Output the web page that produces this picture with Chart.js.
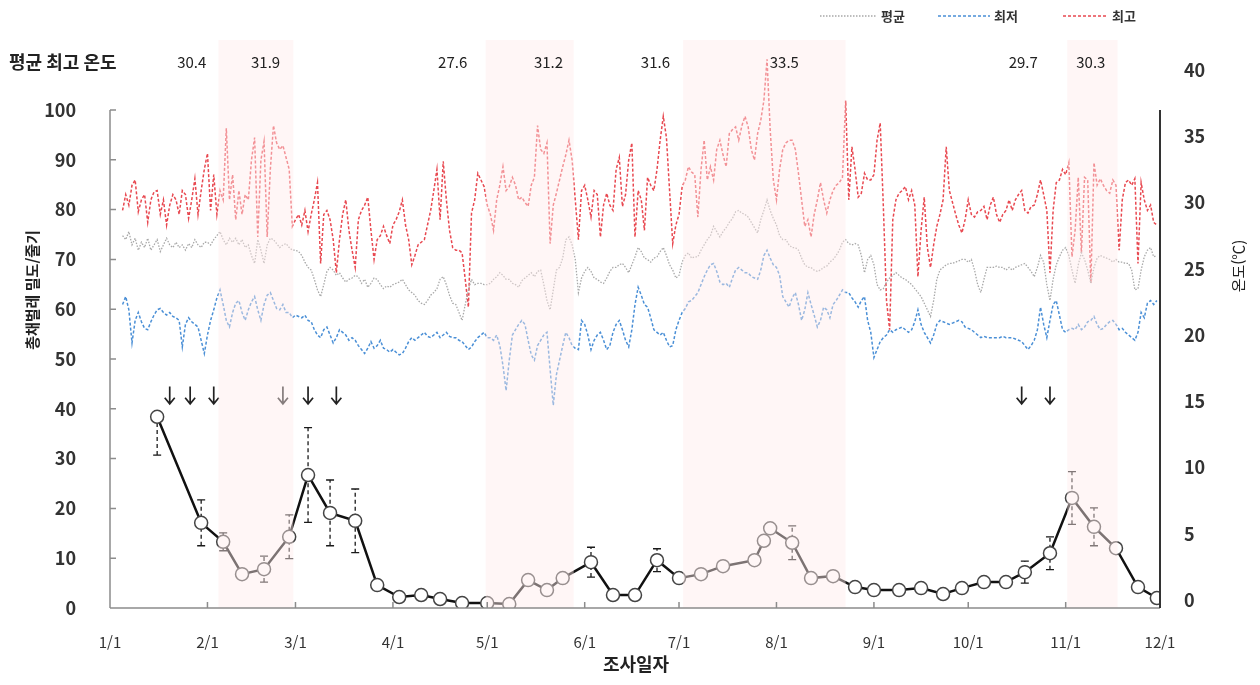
<!DOCTYPE html>
<html lang="ko">
<head>
<meta charset="UTF-8">
<title>총채벌레 밀도와 온도</title>
<script src="https://cdn.jsdelivr.net/npm/chart.js@4.4.1/dist/chart.umd.min.js"></script>
<style>
  html, body { margin: 0; padding: 0; background: #fff; }
  canvas { display: block; }
</style>
</head>
<body>
<canvas id="chart" width="1260" height="685"></canvas>
<script>
// --- 축 눈금 (1/1 = 0일) ---
const monthLabels = ['1/1','2/1','3/1','4/1','5/1','6/1','7/1','8/1','9/1','10/1','11/1','12/1'];
const monthStarts = [0, 31, 59, 90, 120, 151, 181, 212, 243, 273, 304, 334];

// --- 일별 온도 (℃), 1/1부터 ---
const maxTemp = [
  null, null, null, null,
  29.4, 30.6, 29.8, 31.3, 31.7, 29.3, 30.2, 30.6, 28.5, 30.2, 30.8, 30.9, 29.1, 30.2, 28.3, 29.8, 30.6, 30.2, 29.1, 30.9, 30.6, 28.8, 30.2, 31.8, 29.1, 30.9, 32.5,
  33.7, 29.4, 32.1, 29.1, 30.9, 30.2, 35.6, 30.2, 32.1, 28.7, 30.9, 29.1, 30.6, 30.2, 33.2, 34.9, 27.4, 33.2, 34.6, 27.4, 32.5, 35.8, 34.5, 34.0, 34.3, 33.4, 32.5, 28.2,
  28.7, 29.1, 28.3, 29.4, 27.8, 29.1, 30.2, 31.5, 25.4, 29.1, 29.4, 28.7, 27.2, 24.7, 27.2, 29.1, 30.2, 27.9, 26.4, 25.1, 28.7, 29.4, 29.8, 30.4, 27.9, 25.7, 27.2, 27.5, 28.2, 27.5, 26.9,
  28.3, 28.7, 29.3, 30.2, 28.3, 27.2, 25.3, 26.0, 26.8, 27.0, 27.2, 28.3, 29.4, 30.9, 32.5, 28.7, 33.1, 30.2, 27.9, 26.6, 26.4, 26.4, 26.2, 24.2, 22.1, 29.2, 30.2, 32.2, 31.7, 31.2,
  29.8, 29.1, 27.9, 30.2, 31.3, 32.7, 30.9, 31.2, 31.9, 31.3, 30.2, 30.4, 30.0, 29.7, 31.3, 31.9, 35.8, 34.0, 33.7, 34.5, 26.9, 29.8, 30.7, 31.7, 32.7, 33.6, 34.7, 33.2, 30.2, 27.2, 30.9,
  31.3, 30.2, 28.9, 30.9, 30.6, 27.4, 29.8, 30.7, 29.8, 29.4, 32.5, 33.4, 29.7, 30.6, 33.2, 34.5, 27.4, 30.9, 30.2, 27.9, 31.9, 31.3, 30.9, 32.5, 34.7, 36.5, 34.9, 30.9, 26.9, 28.3,
  29.1, 31.2, 31.7, 32.7, 32.3, 32.1, 28.9, 32.5, 34.7, 31.7, 32.7, 31.7, 34.0, 34.7, 33.6, 32.7, 35.2, 35.5, 35.7, 34.7, 35.8, 36.5, 35.7, 34.0, 33.2, 35.2, 36.2, 37.7, 40.8, 35.5, 31.7,
  30.2, 32.5, 34.0, 34.5, 34.7, 34.7, 34.0, 32.2, 30.2, 28.2, 28.7, 27.4, 29.1, 30.2, 31.5, 30.2, 29.2, 30.2, 30.9, 31.3, 31.5, 31.9, 37.7, 30.2, 34.2, 32.5, 30.4, 30.7, 32.2, 31.7, 31.7,
  32.1, 34.7, 36.0, 29.7, 22.6, 20.4, 28.7, 30.2, 30.7, 30.9, 31.2, 30.2, 30.9, 29.8, 24.4, 27.9, 30.4, 26.6, 25.1, 26.8, 28.2, 29.1, 30.2, 34.2, 30.9, 30.0, 29.1, 28.3, 27.7, 28.7,
  30.2, 29.1, 28.9, 29.3, 29.4, 29.7, 28.7, 29.8, 30.4, 29.1, 28.5, 29.1, 29.4, 30.2, 29.4, 30.2, 30.6, 30.9, 29.4, 29.2, 29.7, 29.8, 30.6, 31.7, 30.6, 29.4, 24.7, 29.4, 31.5, 31.7, 32.5,
  32.1, 33.0, 25.9, 27.9, 31.9, 26.2, 31.9, 31.7, 23.9, 33.0, 31.3, 31.8, 31.3, 30.9, 30.7, 31.7, 31.3, 26.4, 30.2, 31.5, 31.7, 31.3, 31.8, 25.4, 31.5, 30.2, 29.4, 29.8, 28.5, 28.3
];
const avgTemp = [
  null, null, null, null,
  27.5, 27.2, 27.8, 26.8, 27.3, 26.4, 27.0, 26.6, 27.3, 26.4, 26.8, 27.2, 26.3, 26.8, 27.3, 26.8, 26.6, 27.0, 26.6, 26.8, 26.4, 26.9, 26.6, 27.2, 26.8, 26.6, 27.0,
  27.0, 26.8, 27.2, 27.5, 27.8, 27.2, 26.8, 27.3, 27.0, 27.3, 26.8, 27.2, 26.6, 26.8, 26.0, 25.4, 27.2, 26.4, 25.4, 26.8, 27.3, 27.2, 26.9, 26.6, 26.8, 26.9, 26.6, 26.4,
  26.4, 26.3, 26.0, 25.5, 25.1, 24.9, 24.2, 23.4, 22.9, 23.8, 24.8, 25.1, 24.9, 24.5, 24.7, 24.3, 24.0, 24.2, 24.3, 24.5, 24.4, 23.9, 24.2, 23.6, 23.9, 24.3, 24.2, 23.8, 23.5, 23.7, 23.6,
  23.8, 23.9, 24.0, 24.2, 23.8, 23.4, 23.2, 23.0, 22.6, 22.4, 22.3, 22.6, 23.0, 23.2, 23.5, 24.2, 24.4, 23.8, 23.0, 22.4, 22.3, 21.7, 21.1, 22.3, 23.4, 24.2, 23.8, 23.9, 23.9, 23.8,
  23.8, 23.9, 24.2, 24.4, 24.7, 24.5, 24.2, 24.2, 23.9, 23.8, 23.6, 24.1, 24.3, 24.5, 24.7, 24.4, 24.8, 24.9, 23.8, 22.6, 21.9, 23.4, 24.9, 25.1, 25.8, 27.2, 27.4, 26.8, 25.7, 23.2, 24.3,
  24.8, 25.1, 24.8, 24.3, 24.2, 24.0, 23.9, 24.3, 24.8, 25.1, 25.1, 25.3, 25.4, 25.1, 24.7, 25.3, 25.9, 26.6, 26.3, 25.8, 25.7, 25.5, 25.8, 25.9, 26.3, 26.6, 26.0, 25.3, 24.9, 24.3,
  24.5, 25.5, 26.0, 26.2, 25.8, 25.9, 25.9, 26.4, 26.8, 27.2, 27.5, 28.2, 27.8, 27.4, 27.8, 28.1, 28.5, 28.8, 29.3, 29.4, 29.2, 29.1, 28.9, 28.5, 28.1, 27.7, 28.7, 29.4, 30.2, 29.4, 28.8,
  28.3, 27.5, 27.2, 27.2, 26.8, 26.6, 26.6, 26.4, 25.8, 25.3, 25.1, 25.1, 24.9, 24.8, 24.9, 25.1, 25.2, 25.5, 25.7, 26.0, 26.4, 27.0, 27.2, 26.9, 26.8, 26.9, 26.8, 26.0, 24.7, 25.7, 26.0,
  25.3, 23.8, 23.4, 23.5, 24.0, 24.3, 24.5, 24.7, 24.5, 24.3, 24.2, 24.0, 23.8, 23.5, 23.2, 22.9, 22.4, 21.9, 21.4, 22.6, 24.2, 24.9, 25.1, 25.3, 25.4, 25.4, 25.5, 25.6, 25.7, 25.7,
  25.5, 25.7, 24.9, 23.8, 23.2, 24.2, 25.1, 25.1, 25.1, 25.2, 25.1, 25.1, 24.9, 25.1, 24.9, 25.1, 25.2, 25.3, 25.4, 25.1, 24.8, 24.4, 25.1, 26.0, 25.5, 23.8, 22.6, 24.2, 25.3, 25.9, 26.4,
  26.6, 26.0, 24.9, 23.9, 25.3, 26.2, 25.7, 24.9, 23.9, 25.1, 25.8, 26.0, 25.9, 25.8, 25.7, 25.5, 25.7, 25.5, 25.5, 25.4, 25.4, 24.9, 23.4, 23.5, 24.9, 25.9, 26.4, 26.6, 25.9, 26.0
];
const minTemp = [
  null, null, null, null,
  22.3, 22.9, 21.9, 19.4, 21.1, 21.7, 21.0, 20.5, 20.4, 21.0, 21.5, 21.9, 22.0, 21.7, 21.5, 21.7, 21.4, 21.3, 21.1, 19.1, 20.8, 21.3, 21.0, 20.8, 20.6, 19.6, 18.6,
  20.0, 21.1, 21.9, 22.8, 23.4, 22.3, 21.1, 20.6, 21.7, 22.4, 22.6, 21.7, 21.1, 21.9, 22.5, 22.9, 21.9, 21.1, 22.3, 23.0, 23.2, 22.6, 22.0, 21.9, 22.3, 21.7, 21.7, 21.3,
  21.5, 21.4, 21.3, 21.5, 21.1, 21.0, 20.4, 20.0, 19.8, 20.4, 20.6, 20.0, 19.4, 19.8, 20.4, 20.2, 20.0, 19.6, 19.8, 19.6, 19.2, 18.9, 18.6, 19.0, 19.5, 19.0, 19.2, 19.6, 19.0, 18.9, 18.7,
  18.9, 18.7, 18.5, 18.6, 19.0, 19.5, 19.8, 19.6, 19.8, 20.0, 20.2, 19.9, 19.8, 20.0, 20.2, 19.8, 20.0, 20.2, 19.9, 19.8, 19.8, 19.6, 19.5, 19.2, 18.9, 19.1, 19.5, 19.8, 20.0, 20.2,
  19.8, 19.8, 19.6, 20.0, 19.2, 17.7, 15.8, 18.1, 20.0, 20.4, 20.8, 21.1, 20.8, 19.6, 18.5, 18.1, 19.2, 19.6, 20.0, 20.2, 17.4, 14.7, 17.0, 18.1, 19.2, 20.2, 19.8, 19.2, 19.0, 18.9, 21.1,
  20.8, 20.0, 18.9, 19.6, 20.0, 20.2, 19.6, 18.9, 19.2, 20.2, 20.8, 21.1, 20.4, 19.6, 19.1, 20.4, 22.3, 23.6, 23.0, 22.3, 22.1, 21.3, 20.4, 20.2, 20.0, 20.2, 19.6, 19.1, 19.2, 20.4,
  21.1, 21.7, 22.0, 22.5, 22.6, 22.9, 23.2, 23.8, 24.4, 24.9, 25.3, 25.4, 24.8, 24.0, 23.8, 23.9, 23.6, 24.3, 24.9, 25.1, 24.9, 24.7, 24.7, 24.4, 24.3, 24.2, 24.9, 26.0, 26.4, 25.8, 25.3,
  25.1, 24.5, 22.9, 22.5, 22.1, 22.8, 23.2, 22.3, 21.1, 21.9, 23.2, 22.3, 21.5, 20.6, 21.1, 22.1, 21.9, 21.3, 22.3, 22.6, 23.0, 23.4, 23.2, 23.2, 22.8, 22.5, 22.1, 22.6, 22.9, 21.1, 20.2,
  18.3, 18.9, 19.5, 19.8, 20.0, 20.4, 20.2, 20.4, 20.5, 20.6, 20.4, 20.2, 20.4, 21.0, 21.9, 20.8, 20.2, 19.8, 19.4, 20.0, 20.8, 21.1, 21.0, 20.9, 20.8, 20.9, 21.0, 21.1, 21.0, 20.6,
  20.5, 20.4, 20.2, 20.0, 19.8, 19.9, 19.8, 19.8, 19.8, 19.8, 19.8, 19.9, 19.8, 19.8, 19.8, 19.7, 19.6, 19.5, 19.2, 18.9, 19.2, 19.6, 20.4, 22.1, 20.8, 19.8, 21.1, 22.3, 22.6, 21.5, 20.4,
  20.2, 20.4, 20.5, 20.4, 20.8, 20.4, 20.6, 21.0, 21.1, 21.4, 20.8, 20.4, 20.5, 20.8, 21.0, 21.1, 20.8, 20.4, 20.5, 20.2, 20.0, 19.8, 19.6, 20.2, 21.7, 21.3, 22.4, 22.6, 22.3, 22.6
];

// --- 총채벌레 밀도 (마리/줄기) ---
const densityDays = [15, 29, 36, 42, 49, 57, 63, 70, 78, 85, 92, 99, 105, 112, 120, 127, 133, 139, 144, 153, 160, 167, 174, 181, 188, 195, 205, 208, 210, 217, 223, 230, 237, 243, 251, 258, 265, 271, 278, 285, 291, 299, 306, 313, 320, 327, 333];
const density = [38.4, 17.1, 13.3, 6.8, 7.8, 14.3, 26.7, 19.1, 17.5, 4.6, 2.2, 2.6, 1.8, 1.0, 1.0, 0.8, 5.6, 3.6, 6.0, 9.2, 2.6, 2.6, 9.6, 6.0, 6.8, 8.4, 9.6, 13.5, 16.0, 13.1, 6.0, 6.4, 4.2, 3.6, 3.6, 4.0, 2.8, 4.0, 5.2, 5.2, 7.2, 11.0, 22.1, 16.3, 12.0, 4.2, 2.0];
const densityErrLow = [7.7, 4.6, 1.8, 0, 2.6, 4.4, 9.5, 6.6, 6.4, 1.0, 0, 0.8, 0, 0, 0, 0, 0, 0, 0, 3.0, 0, 0, 2.3, 0, 0, 0, 0, 0, 0, 3.4, 0, 0, 0, 0, 0, 0, 0, 0, 0, 0, 2.2, 3.3, 5.3, 3.8, 0, 0, 0];
const densityErrHigh = [0, 4.6, 1.8, 0, 2.6, 4.4, 9.5, 6.6, 6.4, 1.0, 0, 0.8, 0, 0, 0, 0, 0, 0, 0, 3.0, 0, 0, 2.3, 0, 0, 0, 0, 0, 0, 3.4, 0, 0, 0, 0, 0, 0, 0, 0, 0, 0, 2.2, 3.3, 5.3, 3.8, 0, 0, 0];

// --- 방제 시점 (화살표) ---
const sprayDays = [19, 25.5, 33, 55, 63, 72, 290, 299];

// --- 기간별 평균 최고 온도 ---
const periodDays = [26, 49.5, 109, 139.5, 173.5, 214.5, 290.5, 312];
const periodMaxTemps = ['30.4', '31.9', '27.6', '31.2', '31.6', '33.5', '29.7', '30.3'];

// --- 고온 기간 (음영) ---
const hotStart = [34.5, 119.5, 182.3, 304.5];
const hotEnd = [58.3, 147.5, 234, 320.5];

const FONT = "'Noto Sans CJK KR', 'Noto Sans', sans-serif";

function toPoints(values) {
  return values.map((v, i) => ({ x: i, y: v }));
}

// --- 부가 요소 그리기 ---
const decorPlugin = {
  id: 'decor',
  beforeDatasetsDraw(chart) {
    const { ctx, scales: { x, y } } = chart;
    ctx.save();
    ctx.strokeStyle = '#1a1a1a';
    ctx.lineWidth = 1.3;
    densityDays.forEach((d, i) => {
      const lo = densityErrLow[i], hi = densityErrHigh[i];
      if (!lo && !hi) return;
      const px = x.getPixelForValue(d);
      const pLo = y.getPixelForValue(density[i] - lo);
      const pHi = y.getPixelForValue(density[i] + hi);
      ctx.setLineDash([4, 3]);
      ctx.beginPath(); ctx.moveTo(px, pLo); ctx.lineTo(px, pHi); ctx.stroke();
      ctx.setLineDash([]);
      ctx.beginPath();
      if (lo) { ctx.moveTo(px - 4, pLo); ctx.lineTo(px + 4, pLo); }
      if (hi) { ctx.moveTo(px - 4, pHi); ctx.lineTo(px + 4, pHi); }
      ctx.stroke();
    });
    ctx.restore();
  },
  afterDatasetsDraw(chart) {
    const { ctx, chartArea, scales: { x, y } } = chart;
    ctx.save();
    // 화살표
    ctx.strokeStyle = '#222';
    ctx.lineWidth = 1.7;
    const aTop = y.getPixelForValue(44.5), aBot = y.getPixelForValue(41);
    sprayDays.forEach(d => {
      const px = x.getPixelForValue(d);
      ctx.beginPath();
      ctx.moveTo(px, aTop); ctx.lineTo(px, aBot);
      ctx.moveTo(px - 5, aBot - 6); ctx.lineTo(px, aBot); ctx.lineTo(px + 5, aBot - 6);
      ctx.stroke();
    });
    // 고온 기간 음영 (선 위에 반투명으로 덮음)
    ctx.fillStyle = 'rgba(255, 234, 234, 0.45)';
    hotStart.forEach((s, i) => {
      const x0 = x.getPixelForValue(s), x1 = x.getPixelForValue(hotEnd[i]);
      ctx.fillRect(x0, 40, x1 - x0, chartArea.bottom - 40);
    });
    ctx.restore();
  },
  afterDraw(chart) {
    const { ctx, chartArea, scales: { x, y } } = chart;
    ctx.save();
    const bottom = y.getPixelForValue(0);
    // 왼쪽 축
    ctx.strokeStyle = '#8c8c8c';
    ctx.lineWidth = 1.5;
    ctx.beginPath();
    ctx.moveTo(chartArea.left, y.getPixelForValue(100));
    ctx.lineTo(chartArea.left, bottom);
    for (let v = 10; v <= 100; v += 10) {
      const py = y.getPixelForValue(v);
      ctx.moveTo(chartArea.left, py); ctx.lineTo(chartArea.left + 6, py);
    }
    // 가로 축
    ctx.moveTo(chartArea.left, bottom); ctx.lineTo(chartArea.right, bottom);
    monthStarts.forEach(d => {
      const px = x.getPixelForValue(d);
      ctx.moveTo(px, bottom); ctx.lineTo(px, bottom - 6);
    });
    ctx.stroke();
    // 오른쪽 축
    ctx.strokeStyle = '#333';
    ctx.lineWidth = 2;
    ctx.beginPath();
    ctx.moveTo(chartArea.right, y.getPixelForValue(100));
    ctx.lineTo(chartArea.right, bottom);
    ctx.stroke();

    // 범례
    const items = [
      { label: '평균', color: '#a8a8a8', dash: [1.5, 1.5], x0: 820, x1: 877 },
      { label: '최저', color: '#4a8fd6', dash: [3, 2], x0: 938, x1: 990 },
      { label: '최고', color: '#e84850', dash: [3, 2], x0: 1063, x1: 1108 }
    ];
    ctx.font = 'bold 13px ' + FONT;
    ctx.textBaseline = 'middle';
    ctx.textAlign = 'left';
    items.forEach(it => {
      ctx.strokeStyle = it.color;
      ctx.lineWidth = 1.5;
      ctx.setLineDash(it.dash);
      ctx.beginPath(); ctx.moveTo(it.x0, 16); ctx.lineTo(it.x1, 16); ctx.stroke();
      ctx.setLineDash([]);
      ctx.fillStyle = '#333';
      ctx.fillText(it.label, it.x1 + 4, 16);
    });

    // 평균 최고 온도
    ctx.fillStyle = '#222';
    ctx.font = 'bold 18px ' + FONT;
    ctx.fillText('평균 최고 온도', 9, 62);
    ctx.font = '15px ' + FONT;
    ctx.textAlign = 'center';
    periodDays.forEach((d, i) => ctx.fillText(periodMaxTemps[i], x.getPixelForValue(d), 62));

    // 축 제목
    ctx.font = 'bold 18px ' + FONT;
    ctx.fillText('조사일자', 636, 664);
    ctx.save();
    ctx.translate(32, 290);
    ctx.rotate(-Math.PI / 2);
    ctx.font = 'bold 15px ' + FONT;
    ctx.fillText('총채벌레 밀도/줄기', 0, 0);
    ctx.restore();
    ctx.save();
    ctx.translate(1238, 266);
    ctx.rotate(-Math.PI / 2);
    ctx.font = '15px ' + FONT;
    ctx.fillText('온도(℃)', 0, 0);
    ctx.restore();
    ctx.restore();
  }
};

const tickFont = { family: FONT, size: 18, weight: 'bold' };

new Chart(document.getElementById('chart'), {
  type: 'line',
  data: {
    datasets: [
      {
        label: '밀도',
        data: densityDays.map((d, i) => ({ x: d, y: density[i] })),
        yAxisID: 'y',
        borderColor: '#111',
        borderWidth: 2.5,
        pointRadius: 6.5,
        pointBackgroundColor: '#fff',
        pointBorderColor: '#444',
        pointBorderWidth: 1.5,
        tension: 0
      },
      {
        label: '평균',
        data: toPoints(avgTemp),
        yAxisID: 'y1',
        borderColor: '#a8a8a8',
        borderWidth: 1.3,
        borderDash: [1.5, 1.5],
        pointRadius: 0,
        tension: 0,
        clip: false
      },
      {
        label: '최저',
        data: toPoints(minTemp),
        yAxisID: 'y1',
        borderColor: '#4a8fd6',
        borderWidth: 1.5,
        borderDash: [3, 2],
        pointRadius: 0,
        tension: 0,
        clip: false
      },
      {
        label: '최고',
        data: toPoints(maxTemp),
        yAxisID: 'y1',
        borderColor: '#e84850',
        borderWidth: 1.5,
        borderDash: [3, 2],
        pointRadius: 0,
        tension: 0,
        clip: false
      }
    ]
  },
  options: {
    responsive: false,
    animation: false,
    devicePixelRatio: 1,
    layout: { padding: { top: 70, left: 0, right: 0, bottom: 0 } },
    plugins: { legend: { display: false }, tooltip: { enabled: false } },
    scales: {
      x: {
        type: 'linear',
        min: 0,
        max: 334,
        grid: { display: false },
        border: { display: false },
        afterBuildTicks: s => { s.ticks = monthStarts.map(v => ({ value: v })); },
        afterFit: s => { s.height = 77; },
        ticks: {
          autoSkip: false,
          maxRotation: 0,
          padding: 17,
          color: '#333',
          font: { family: FONT, size: 15 },
          callback: (v, i) => monthLabels[i]
        }
      },
      y: {
        position: 'left',
        min: 0,
        max: 108.03,
        grid: { display: false },
        border: { display: false },
        afterBuildTicks: s => { s.ticks = [0,10,20,30,40,50,60,70,80,90,100].map(v => ({ value: v })); },
        afterFit: s => { s.width = 110; },
        ticks: { padding: 26, color: '#333', font: tickFont }
      },
      y1: {
        position: 'right',
        min: -0.604,
        max: 40,
        grid: { display: false },
        border: { display: false },
        afterBuildTicks: s => { s.ticks = [0,5,10,15,20,25,30,35,40].map(v => ({ value: v })); },
        afterFit: s => { s.width = 100; },
        ticks: { padding: 16, color: '#333', font: tickFont }
      }
    }
  },
  plugins: [decorPlugin]
});
</script>
</body>
</html>
